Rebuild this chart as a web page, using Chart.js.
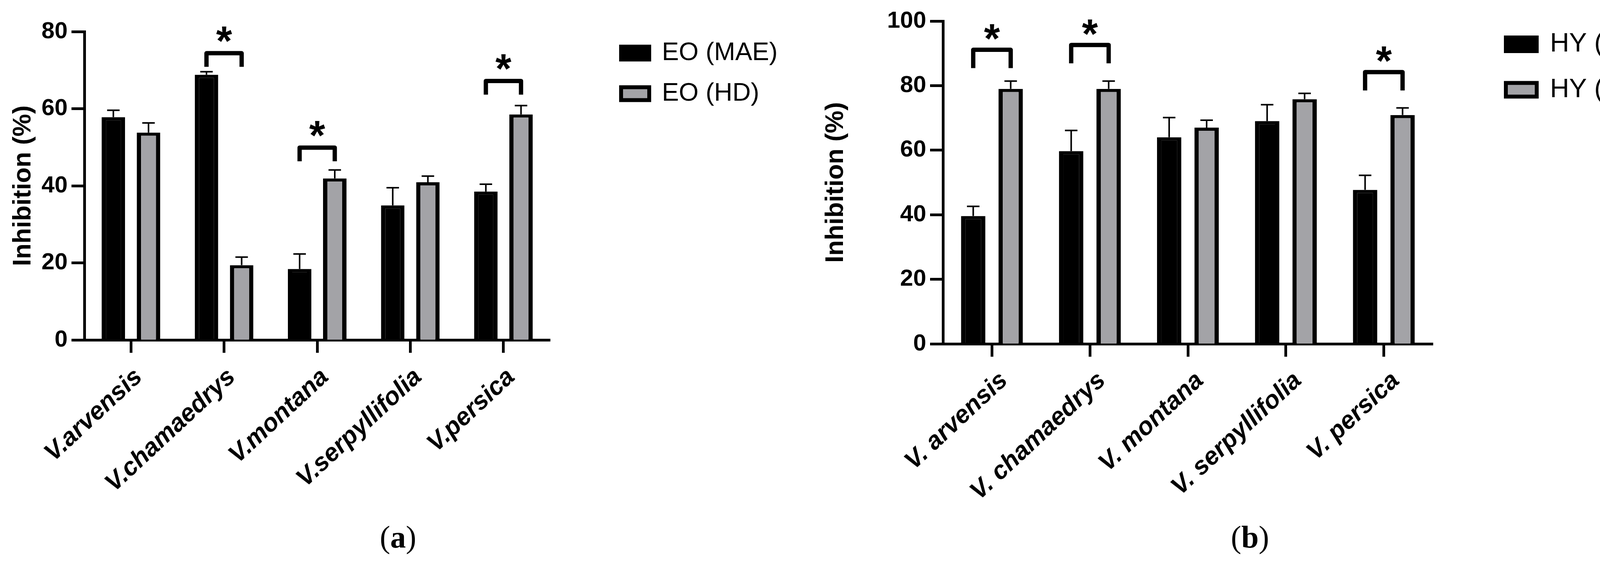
<!DOCTYPE html>
<html>
<head>
<meta charset="utf-8">
<script src="https://cdn.jsdelivr.net/npm/chart.js@4.4.1/dist/chart.umd.min.js"></script>
<style>
  html, body { margin: 0; padding: 0; background: #fff; }
  #page { position: relative; width: 4319px; height: 1440px; overflow: hidden; background: #fff; }
  canvas { position: absolute; top: 0; }
  .cap { position: absolute; width: 400px; text-align: center; font-family: 'Liberation Serif', 'Times New Roman', serif; font-size: 80px; line-height: 80px; color: #000; }
</style>
</head>
<body>
<div id="page">
  <canvas id="chartA" width="2160" height="1440" style="left:0px;width:2160px;height:1440px"></canvas>
  <canvas id="chartB" width="2259" height="1440" style="left:2060px;width:2259px;height:1440px"></canvas>
  <div class="cap" style="left:819px;top:1336px">(<b>a</b>)</div>
  <div class="cap" style="left:3000px;top:1336px">(<b>b</b>)</div>
</div>
<script>
// ---------- DATA ----------
const eoCategories = ['V.arvensis', 'V.chamaedrys', 'V.montana', 'V.serpyllifolia', 'V.persica'];
const eoMAE    = [57.8, 68.8, 18.4, 34.9, 38.5];
const eoMAEErr = [1.8, 0.8, 3.9, 4.6, 1.9];
const eoHD     = [53.8, 19.4, 41.9, 40.9, 58.5];
const eoHDErr  = [2.5, 2.1, 2.2, 1.6, 2.3];
const eoSigCats   = [1, 2, 4];          // categories marked with *
const eoSigLevels = [74.4, 49.9, 67.2]; // bracket heights (value units)
const eoTicks = [0, 20, 40, 60, 80];

const hyCategories = ['V. arvensis', 'V. chamaedrys', 'V. montana', 'V. serpyllifolia', 'V. persica'];
const hyMAE    = [39.6, 59.7, 64.0, 69.0, 47.7];
const hyMAEErr = [3.0, 6.4, 6.1, 5.1, 4.5];
const hyHD     = [79.0, 79.0, 67.0, 75.8, 70.9];
const hyHDErr  = [2.4, 2.4, 2.3, 1.8, 2.2];
const hySigCats   = [0, 1, 4];
const hySigLevels = [91.1, 92.6, 84.2];
const hyTicks = [0, 20, 40, 60, 80, 100];

// ---------- STYLE ----------
const FONT = "'Liberation Sans', Arial, Helvetica, sans-serif";
const GRAY = '#a3a3a7';

// place legend at fixed position (legend is in 'chartArea' mode so it takes no layout room)
const legendPlace = {
  id: 'legendPlace',
  afterLayout(chart, args, opts) {
    const lg = chart.legend;
    if (!lg) return;
    const w = lg.width, h = lg.height;
    lg.left = opts.x; lg.top = opts.y; lg.right = opts.x + w; lg.bottom = opts.y + h;
  }
};

// error bars (upper whisker) + significance brackets
const errSig = {
  id: 'errSig',
  afterDatasetsDraw(chart, args, opts) {
    const ctx = chart.ctx;
    const ys = chart.scales.y;
    ctx.save();
    ctx.strokeStyle = '#000';
    ctx.fillStyle = '#000';
    opts.errors.forEach((errs, di) => {
      const meta = chart.getDatasetMeta(di);
      const vals = chart.data.datasets[di].data;
      meta.data.forEach((el, i) => {
        const yTop = ys.getPixelForValue(vals[i] + errs[i]);
        ctx.lineWidth = 4;
        ctx.lineCap = 'butt';
        ctx.beginPath();
        ctx.moveTo(el.x, el.y);
        ctx.lineTo(el.x, yTop);
        ctx.stroke();
        ctx.beginPath();
        ctx.moveTo(el.x - opts.capHalf, yTop);
        ctx.lineTo(el.x + opts.capHalf, yTop);
        ctx.stroke();
      });
    });
    const m0 = chart.getDatasetMeta(0), m1 = chart.getDatasetMeta(1);
    opts.sigCats.forEach((c, k) => {
      const x1 = m0.data[c].x, x2 = m1.data[c].x;
      const yl = ys.getPixelForValue(opts.sigLevels[k]);
      ctx.lineWidth = 11;
      ctx.lineJoin = 'round';
      ctx.lineCap = 'butt';
      ctx.beginPath();
      ctx.moveTo(x1, yl + opts.legDepth);
      ctx.lineTo(x1, yl);
      ctx.lineTo(x2, yl);
      ctx.lineTo(x2, yl + opts.legDepth);
      ctx.stroke();
      ctx.font = 'bold ' + opts.starSize + 'px ' + FONT;
      ctx.textAlign = 'center';
      ctx.textBaseline = 'alphabetic';
      const cy = yl - opts.starOffset;
      ctx.fillText('*', (x1 + x2) / 2, cy + 0.575 * opts.starSize);
    });
    ctx.restore();
  }
};

function legendLabels(chart) {
  const items = Chart.defaults.plugins.legend.labels.generateLabels(chart);
  items.forEach(it => { it.lineWidth = 10; it.strokeStyle = '#000'; });
  return items;
}

function makeChart(id, cfg) {
  return new Chart(document.getElementById(id), {
    type: 'bar',
    data: {
      labels: cfg.categories,
      datasets: [
        { label: cfg.names[0], data: cfg.mae, backgroundColor: '#000', borderColor: '#000',
          borderWidth: { top: 8, left: 11, right: 11, bottom: 0 },
          categoryPercentage: cfg.catPct, barPercentage: cfg.barPct },
        { label: cfg.names[1], data: cfg.hd, backgroundColor: GRAY, borderColor: '#000',
          borderWidth: { top: 8, left: 11, right: 11, bottom: 0 },
          categoryPercentage: cfg.catPct, barPercentage: cfg.barPct }
      ]
    },
    options: {
      responsive: false,
      animation: false,
      devicePixelRatio: 1,
      layout: { padding: cfg.padding },
      scales: {
        x: {
          offset: true,
          grid: { display: true, offset: false, drawOnChartArea: false, drawTicks: true,
                  tickLength: 33, tickWidth: 7, tickColor: '#000', color: '#000' },
          border: { display: true, width: 7, color: '#000' },
          ticks: { autoSkip: false, maxRotation: 43, minRotation: 43, padding: cfg.xLabelPad,
                   labelOffset: cfg.xLabelShift, color: '#000',
                   font: { family: FONT, size: 64, weight: 'bold', style: 'italic' } },
          afterFit: (s) => { s.height = cfg.xHeight; }
        },
        y: {
          min: 0, max: cfg.ticks[cfg.ticks.length - 1],
          afterBuildTicks: (s) => { s.ticks = cfg.ticks.map(v => ({ value: v })); },
          grid: { display: true, drawOnChartArea: false, drawTicks: true,
                  tickLength: 33, tickWidth: 7, tickColor: '#000', color: '#000' },
          border: { display: true, width: 7, color: '#000' },
          ticks: { padding: 10, color: '#000', font: { family: FONT, size: 60, weight: 'bold' } },
          title: { display: true, text: 'Inhibition (%)', color: '#000',
                   font: { family: FONT, size: 65, weight: 'bold' },
                   padding: { top: cfg.titlePad, bottom: 0 } },
          afterFit: (s) => { s.width = cfg.yWidth; }
        }
      },
      plugins: {
        tooltip: { enabled: false },
        legend: {
          display: true, position: 'chartArea', fullSize: false, align: 'start',
          labels: { boxWidth: cfg.legBox[0], boxHeight: cfg.legBox[1], padding: cfg.legPad, color: '#000',
                    font: { family: FONT, size: cfg.legFont }, generateLabels: legendLabels }
        },
        legendPlace: { x: cfg.legXY[0], y: cfg.legXY[1] },
        errSig: { errors: [cfg.maeErr, cfg.hdErr], sigCats: cfg.sigCats, sigLevels: cfg.sigLevels,
                  legDepth: cfg.legDepth, starOffset: cfg.starOffset, starSize: 105, capHalf: 16 }
      }
    },
    plugins: [legendPlace, errSig]
  });
}

makeChart('chartA', {
  categories: eoCategories, names: ['EO (MAE)', 'EO (HD)'],
  mae: eoMAE, hd: eoHD, maeErr: eoMAEErr, hdErr: eoHDErr,
  sigCats: eoSigCats, sigLevels: eoSigLevels, ticks: eoTicks,
  padding: { left: 0, top: 81, right: 752, bottom: 0 },
  yWidth: 216, xHeight: 569, titlePad: 21, xLabelPad: 25, xLabelShift: 20,
  catPct: 0.755, barPct: 0.667,
  legBox: [72, 33], legPad: 39, legFont: 65, legXY: [1551, 64.5],
  legDepth: 35, starOffset: 56
});

makeChart('chartB', {
  categories: hyCategories, names: ['HY (MAE)', 'HY (HD)'],
  mae: hyMAE, hd: hyHD, maeErr: hyMAEErr, hdErr: hyHDErr,
  sigCats: hySigCats, sigLevels: hySigLevels, ticks: hyTicks,
  padding: { left: 0, top: 54, right: 651, bottom: 0 },
  yWidth: 354, xHeight: 559, titlePad: 41, xLabelPad: 24, xLabelShift: 31,
  catPct: 0.765, barPct: 0.65,
  legBox: [79, 35], legPad: 48.5, legFont: 68, legXY: [1746.5, 31],
  legDepth: 47, starOffset: 53
});
</script>
</body>
</html>
